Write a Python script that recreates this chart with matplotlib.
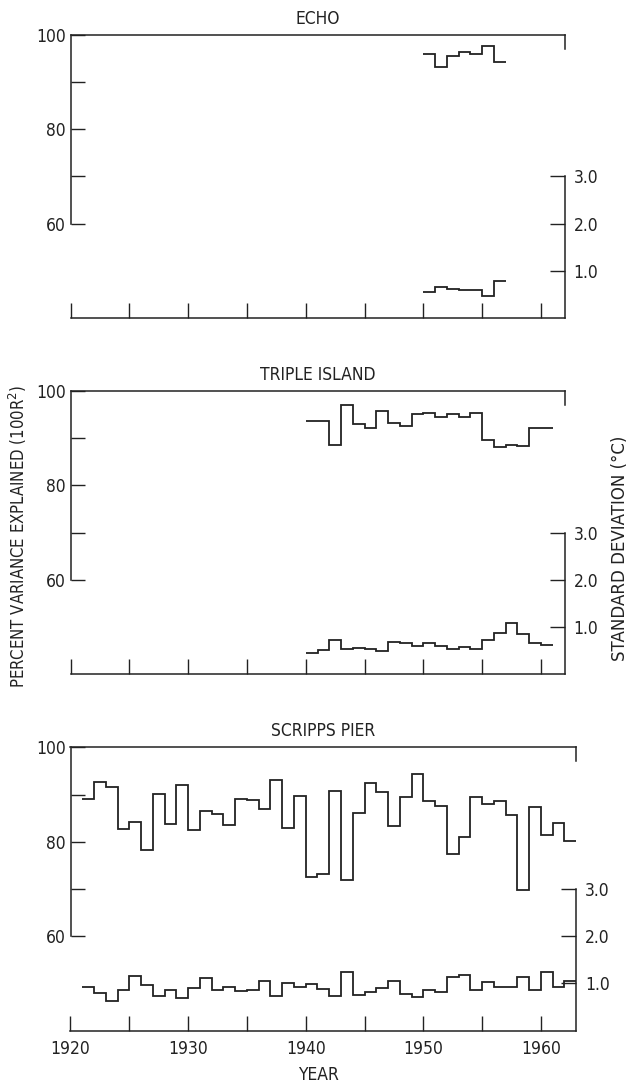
import numpy as np
import matplotlib.pyplot as plt
from matplotlib.ticker import MultipleLocator, FixedLocator

# values (annual steps)
echo_years = np.arange(1950, 1958)          # step edges
echo_var = [95.9, 93.2, 95.4, 96.3, 95.9, 97.6, 94.3]
echo_sd = [0.56, 0.66, 0.61, 0.59, 0.59, 0.47, 0.79]

triple_years = np.arange(1940, 1962)
triple_var = [93.7, 93.7, 88.5, 97.1, 93.1, 92.1, 95.8, 93.3, 92.5, 95.2,
              95.3, 94.5, 95.1, 94.5, 95.3, 89.7, 88.1, 88.6, 88.4, 92.2, 92.2]
triple_sd = [0.46, 0.51, 0.72, 0.53, 0.56, 0.53, 0.49, 0.69, 0.66, 0.60,
             0.66, 0.60, 0.54, 0.57, 0.53, 0.72, 0.87, 1.09, 0.85, 0.66, 0.63]

scripps_years = np.arange(1921, 1964)
scripps_var = [89.1, 92.7, 91.5, 82.7, 84.1, 78.2, 90.1, 83.8, 92.0, 82.4,
               86.6, 85.9, 83.5, 89.1, 88.8, 86.9, 93.0, 83.0, 89.6, 72.6,
               73.1, 90.8, 71.8, 86.0, 92.4, 90.5, 83.3, 89.4, 94.4, 88.7,
               87.6, 77.5, 81.0, 89.5, 88.0, 88.7, 85.7, 69.7, 87.3, 81.5,
               84.0, 80.1]
scripps_sd = [0.92, 0.79, 0.63, 0.85, 1.16, 0.96, 0.73, 0.85, 0.69, 0.91,
              1.11, 0.87, 0.92, 0.84, 0.87, 1.06, 0.73, 1.01, 0.92, 0.99,
              0.88, 0.73, 1.24, 0.76, 0.82, 0.90, 1.06, 0.78, 0.72, 0.85,
              0.82, 1.13, 1.18, 0.87, 1.03, 0.93, 0.93, 1.13, 0.87, 1.25,
              0.93, 1.05]

var_ticks = [60, 80, 100]
sd_ticks = [1.0, 2.0, 3.0]
year_ticks = [1920, 1930, 1940, 1950, 1960]

NARROW = dict(family='DejaVu Sans', stretch='condensed')
INK = '#222222'
W, H = 633, 1084

fig = plt.figure(figsize=(W / 100, H / 100), dpi=100)


def px_axes(left, top, right, bottom):
    return fig.add_axes([left / W, 1 - bottom / H, (right - left) / W, (bottom - top) / H])


def panel(box, xmax, title, years, var, sd, xlabels):
    ax = px_axes(*box)
    ax.set_xlim(1920, xmax)
    ax.set_ylim(40, 100)
    ax.stairs(var, years, baseline=None, color=INK, lw=1.3)

    ax.spines['left'].set_bounds(60, 100)
    ax.spines['right'].set_bounds(97, 100)
    for s in ax.spines.values():
        s.set_color(INK)
        s.set_linewidth(1.1)

    ax.yaxis.set_major_locator(FixedLocator(var_ticks))
    ax.yaxis.set_minor_locator(FixedLocator([70, 90]))
    ax.xaxis.set_major_locator(FixedLocator(year_ticks))
    ax.xaxis.set_minor_locator(MultipleLocator(5))
    ax.tick_params(axis='y', which='both', direction='in', length=10, width=1,
                   color=INK, pad=3.4, labelsize=12.5, labelcolor=INK)
    ax.tick_params(axis='x', which='both', direction='in', length=10.8, width=1,
                   color=INK, pad=6.5, labelsize=12.5, labelcolor=INK,
                   labelbottom=xlabels)
    for lab in ax.get_yticklabels() + ax.get_xticklabels():
        lab.set_family(NARROW['family'])
        lab.set_stretch(NARROW['stretch'])
    ax.set_title(title, fontsize=12.5, color=INK, pad=8, **NARROW)

    ax2 = ax.twinx()
    ax2.set_ylim(0, 6)
    ax2.stairs(sd, years, baseline=None, color=INK, lw=1.3)
    for k in ['top', 'left', 'bottom']:
        ax2.spines[k].set_visible(False)
    ax2.spines['right'].set_bounds(0, 3)
    ax2.spines['right'].set_color(INK)
    ax2.spines['right'].set_linewidth(1.1)
    ax2.yaxis.set_major_locator(FixedLocator(sd_ticks))
    ax2.set_yticklabels(['%.1f' % t for t in sd_ticks], **NARROW)
    ax2.tick_params(axis='y', direction='in', length=11, width=1, color=INK,
                    pad=6.5, labelsize=12.5, labelcolor=INK)
    return ax


panel((70.5, 34.7, 564.5, 318.0), 1962, 'ECHO', echo_years, echo_var, echo_sd, False)
panel((70.5, 391.0, 564.5, 674.3), 1962, 'TRIPLE ISLAND', triple_years, triple_var, triple_sd, False)
ax = panel((70.5, 747.3, 576.2, 1030.6), 1963, 'SCRIPPS PIER', scripps_years, scripps_var, scripps_sd, True)

fig.text(318 / W, 1 - 1075 / H, 'YEAR', fontsize=12.5, color=INK,
         ha='center', va='center', **NARROW)
fig.text(18 / W, 1 - 536 / H, 'PERCENT VARIANCE EXPLAINED (100R$^2$)',
         fontsize=12, color=INK, rotation=90, ha='center', va='center', **NARROW)
fig.text(620 / W, 1 - 548 / H, 'STANDARD DEVIATION (\u00b0C)', family='DejaVu Sans',
         fontsize=12, color=INK, rotation=90, ha='center', va='center')

fig.savefig('out.png', dpi=100)
